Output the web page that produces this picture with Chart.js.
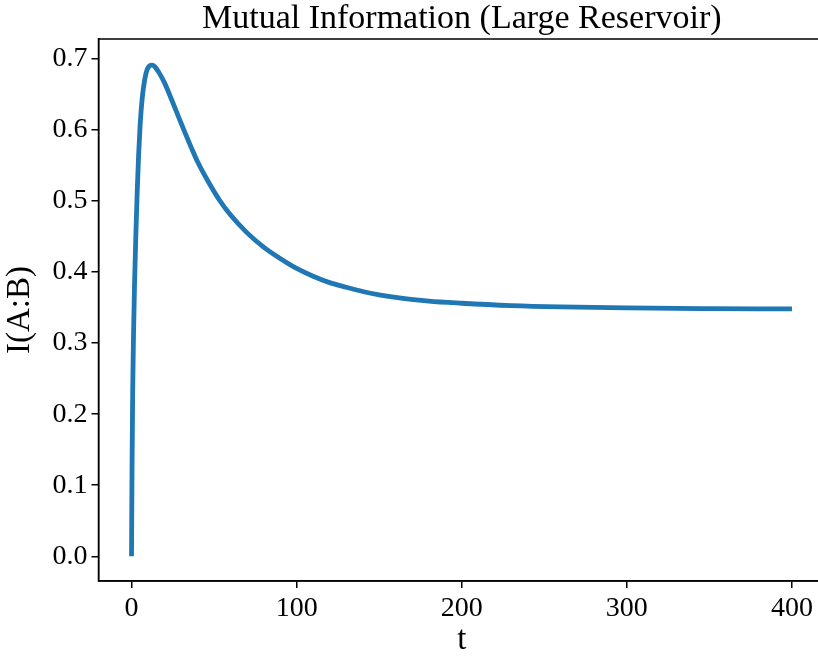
<!DOCTYPE html>
<html>
<head>
<meta charset="utf-8">
<script src="https://cdn.jsdelivr.net/npm/chart.js@4.4.1/dist/chart.umd.min.js"></script>
<style>
    html, body { margin: 0; padding: 0; background: #fff; overflow: hidden; }
    #wrap { width: 840px; height: 657px; }
</style>
</head>
<body>
<div id="wrap"><canvas id="miChart"></canvas></div>
<script>
// Time samples and mutual information I(A:B)
const tValues = [0, 0.3, 0.7, 1.2, 1.8, 2.6, 3.4, 4.3, 5.3, 6.5, 8, 9.5, 11, 12.5, 14, 17, 20,
    24, 28, 32, 36, 40, 46, 53, 60, 70, 80, 90, 100, 110, 120, 130, 140, 150, 160,
    180, 200, 230, 260, 300, 350, 400];
const mutualInfo = [0.000, 0.12, 0.23, 0.31, 0.38, 0.45, 0.51, 0.565, 0.610, 0.645, 0.671, 0.685, 0.690, 0.691, 0.689, 0.679, 0.666,
    0.644, 0.621, 0.598, 0.576, 0.555, 0.529, 0.502, 0.480, 0.455, 0.435, 0.419, 0.405, 0.394, 0.385, 0.3785, 0.3725, 0.3678, 0.3643,
    0.359, 0.356, 0.3527, 0.3508, 0.3494, 0.3485, 0.348];

const xTicks = [0, 100, 200, 300, 400];
const yTicks = [0.0, 0.1, 0.2, 0.3, 0.4, 0.5, 0.6, 0.7];

const serif = "'Liberation Serif', 'Times New Roman', serif";

// Frame around the plot area
const frame = {
    id: 'frame',
    afterDraw(chart) {
        const a = chart.chartArea;
        const ctx = chart.ctx;
        ctx.save();
        ctx.strokeStyle = '#000';
        ctx.lineWidth = 1.5;
        ctx.strokeRect(a.left, a.top, a.right - a.left, a.bottom - a.top);
        ctx.restore();
    }
};

const ctx = document.getElementById('miChart').getContext('2d');
new Chart(ctx, {
    type: 'line',
    data: {
        datasets: [{
            data: tValues.map((t, i) => ({ x: t, y: mutualInfo[i] })),
            borderColor: '#1f77b4',
            borderWidth: 4.8,
            pointRadius: 0,
            fill: false,
            cubicInterpolationMode: 'monotone'
        }]
    },
    options: {
        responsive: true,
        maintainAspectRatio: false,
        animation: false,
        layout: { padding: { left: 0, right: 15, top: 0, bottom: 0 } },
        plugins: {
            legend: { display: false },
            tooltip: { enabled: false },
            title: {
                display: true,
                text: 'Mutual Information (Large Reservoir)',
                fullSize: false,
                color: '#000',
                font: { family: serif, size: 34, weight: 'normal', lineHeight: 1.0 },
                padding: { top: 2, bottom: 3 }
            }
        },
        scales: {
            x: {
                type: 'linear',
                min: -20,
                max: 420,
                afterBuildTicks(axis) { axis.ticks = xTicks.map(v => ({ value: v })); },
                afterFit(axis) { axis.height = 76; },
                grid: { drawOnChartArea: false, drawTicks: true, tickLength: 7, color: '#000', lineWidth: 1.5 },
                border: { display: true, color: '#000', width: 1.5 },
                ticks: {
                    color: '#000',
                    padding: 4,
                    maxRotation: 0,
                    font: { family: serif, size: 28 }
                },
                title: {
                    display: true,
                    text: 't',
                    color: '#000',
                    padding: 0,
                    font: { family: serif, size: 33, lineHeight: 1.0 }
                }
            },
            y: {
                type: 'linear',
                min: -0.0347,
                max: 0.7277,
                afterBuildTicks(axis) { axis.ticks = yTicks.map(v => ({ value: v })); },
                afterFit(axis) { axis.width = 98.5; },
                grid: { drawOnChartArea: false, drawTicks: true, tickLength: 7, color: '#000', lineWidth: 1.5 },
                border: { display: true, color: '#000', width: 1.5 },
                ticks: {
                    color: '#000',
                    padding: 4,
                    font: { family: serif, size: 28 },
                    callback: v => v.toFixed(1)
                },
                title: {
                    display: true,
                    text: 'I(A:B)',
                    color: '#000',
                    padding: { top: 1, bottom: 0 },
                    font: { family: serif, size: 33 }
                }
            }
        }
    },
    plugins: [frame]
});
</script>
</body>
</html>
